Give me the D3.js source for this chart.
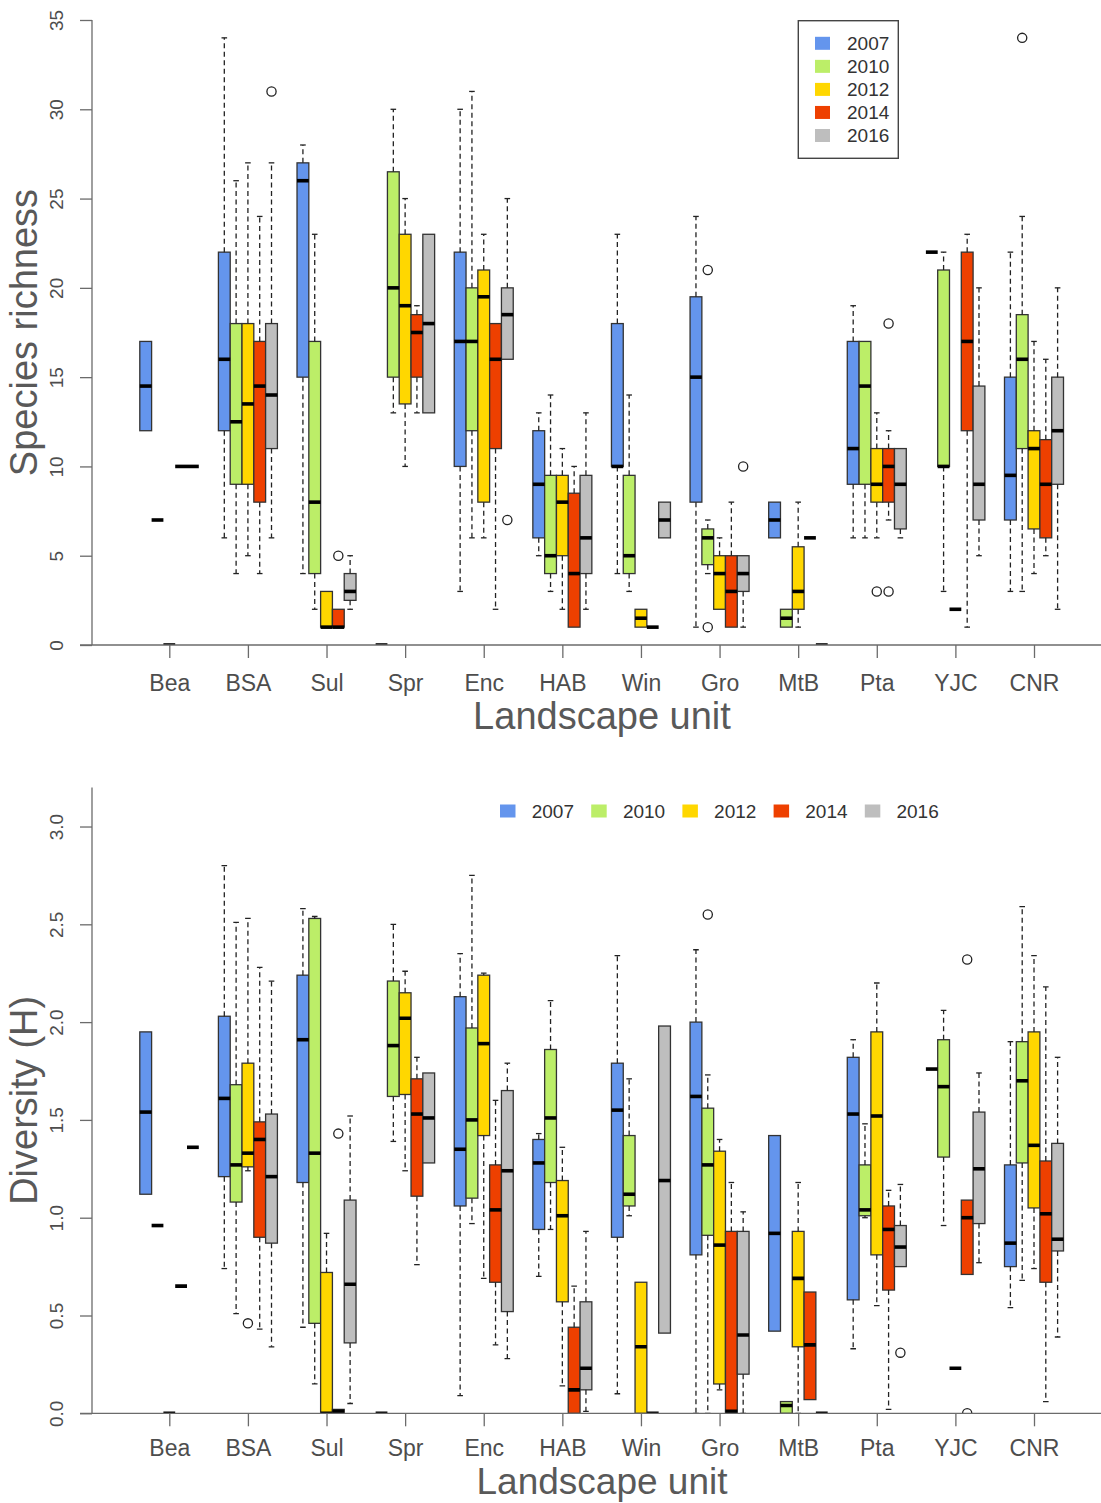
<!DOCTYPE html>
<html>
<head>
<meta charset="utf-8">
<script src="https://cdn.jsdelivr.net/npm/d3@7"></script>
<style>
  html, body { margin: 0; padding: 0; background: #fff; }
  svg { display: block; font-family: "Liberation Sans", Arial, Helvetica, sans-serif; }
</style>
</head>
<body>
<svg id="chart" width="1101" height="1503"></svg>
<script>
// Landscape units and survey years
const units = ["Bea", "BSA", "Sul", "Spr", "Enc", "HAB", "Win", "Gro", "MtB", "Pta", "YJC", "CNR"];
const years = ["2007", "2010", "2012", "2014", "2016"];
const yearColors = ["#6495ED", "#BCEE68", "#FFD700", "#EE4000", "#BEBEBE"];

// Species richness: [lower whisker, Q1, median, Q3, upper whisker] per unit
const rich2007 = [[12,12,14.5,17,17],[6,12,16,22,34],[4,15,26,27,28],[0,0,0,0,0],[3,10,17,22,30],[5,6,9,12,13],
                  [4,10,10,18,23],[1,8,15,19.5,24],[6,6,7,8,8],[6,9,11,17,19],[22,22,22,22,22],[3,7,9.5,15,22]];
const rich2010 = [[7,7,7,7,7],[4,9,12.5,18,26],[2,4,8,17,23],[13,15,20,26.5,30],[6,12,17,20,31],[3,4,5,9.5,14],
                  [3,4,5,9.5,14],[4,4.5,6,6.5,7],[1,1,1.5,2,2],[6,9,14.5,17,17],[3,10,10,21,22],[3,11,16,18.5,24]];
const rich2012 = [[0,0,0,0,0],[5,9,13.5,18,27],[1,1,1,3,3],[10,13.5,19,23,25],[6,8,19.5,21,23],[2,5,8,9.5,11],
                  [1,1,1.5,2,2],[2,2,4,5,6],[1,2,3,5.5,8],[6,8,9,11,13],[2,2,2,2,2],[4,6.5,11,12,17]];
const rich2014 = [[10,10,10,10,10],[4,8,14.5,17,24],[1,1,1,2,2],[13,15,17.5,18.5,19],[2,11,16,18,18],[1,1,4,8.5,10],
                  [1,1,1,1,1],[1,1,3,5,8],[6,6,6,6,6],[7,8,10,11,12],[1,12,17,22,23],[5,6,9,11.5,16]];
const rich2016 = [[10,10,10,10,10],[6,11,14,18,27],[2,2.5,3,4,5],[13,13,18,23,23],[16,16,18.5,20,25],[2,4,6,9.5,13],
                  [6,6,7,8,8],[1,3,4,5,5],[0,0,0,0,0],[6,6.5,9,11,11],[5,7,9,14.5,20],[2,9,12,15,20]];
// Richness outliers: [unit, year, value]
const richOutliers = [["BSA","2016",31],["Sul","2014",5],["Enc","2016",7],["Gro","2010",21],["Gro","2010",1],
                      ["Gro","2016",10],["Pta","2012",3],["Pta","2014",18],["Pta","2014",3],["CNR","2010",34]];
const richTicks = [0, 5, 10, 15, 20, 25, 30, 35];

// Shannon diversity (H): [lower whisker, Q1, median, Q3, upper whisker] per unit
const div2007 = [[1.12,1.12,1.54,1.95,1.95],[0.74,1.21,1.61,2.03,2.80],[0.44,1.18,1.91,2.24,2.58],[0,0,0,0,0],
                 [0.09,1.06,1.35,2.13,2.35],[0.70,0.94,1.28,1.40,1.43],[0.10,0.90,1.55,1.79,2.34],[0,0.81,1.62,2.00,2.37],
                 [0.42,0.42,0.92,1.42,1.42],[0.33,0.58,1.53,1.82,1.91],[1.76,1.76,1.76,1.76,1.76],[0.54,0.75,0.87,1.27,1.90]];
const div2010 = [[0.96,0.96,0.96,0.96,0.96],[0.51,1.08,1.27,1.68,2.51],[0.15,0.46,1.33,2.53,2.54],[1.39,1.62,1.88,2.21,2.50],
                 [0.97,1.10,1.50,1.97,2.75],[0.94,1.18,1.51,1.86,2.11],[1.01,1.06,1.12,1.42,1.71],[0,0.91,1.27,1.56,1.73],
                 [0,0,0.04,0.06,0.06],[1.00,1.01,1.04,1.27,1.48],[0.96,1.31,1.67,1.91,2.06],[0.68,1.28,1.70,1.90,2.59]];
const div2012 = [[0,0,0,0,0],[1.24,1.26,1.33,1.79,2.53],[0,0,0,0.72,0.92],[1.24,1.63,2.02,2.15,2.26],
                 [0.69,1.42,1.89,2.24,2.25],[0.14,0.57,1.01,1.19,1.36],[0,0,0.34,0.67,0.67],[0.12,0.15,0.86,1.34,1.40],
                 [0,0.34,0.69,0.93,1.18],[0.55,0.81,1.52,1.95,2.20],[0.23,0.23,0.23,0.23,0.23],[0.74,1.05,1.37,1.95,2.34]];
const div2014 = [[0.65,0.65,0.65,0.65,0.65],[0.43,0.90,1.40,1.49,2.28],[0,0,0.01,0.02,0.02],[0.76,1.11,1.53,1.71,1.82],
                 [0.35,0.67,1.04,1.27,1.60],[0,0,0.12,0.44,0.65],[0,0,0,0,0],[0,0,0.01,0.93,1.18],
                 [0.07,0.07,0.35,0.62,0.62],[0.02,0.63,0.94,1.06,1.14],[0.71,0.71,1.00,1.09,1.09],[0.06,0.67,1.02,1.29,2.18]];
const div2016 = [[1.36,1.36,1.36,1.36,1.36],[0.34,0.87,1.21,1.53,2.21],[0.05,0.36,0.66,1.09,1.52],[1.28,1.28,1.51,1.74,1.74],
                 [0.28,0.52,1.24,1.65,1.79],[0.01,0.12,0.23,0.57,0.93],[0.41,0.41,1.19,1.98,1.98],[0,0.20,0.40,0.93,1.03],
                 [0,0,0,0,0],[0.75,0.75,0.85,0.96,1.17],[0.77,0.97,1.25,1.54,1.74],[0.39,0.83,0.89,1.38,1.82]];
// Diversity outliers: [unit, year, value]
const divOutliers = [["BSA","2012",0.46],["Sul","2014",1.43],["Gro","2010",2.55],["Pta","2016",0.31],
                     ["YJC","2014",2.32],["YJC","2014",0]];
const divTicks = [0, 0.5, 1.0, 1.5, 2.0, 2.5, 3.0];

const svg = d3.select("#chart");
const axisColor = "#6b6b6b";
const textColor = "#4d4d4d";
const plotLeft = 92, plotRight = 1101;
const boxW = 11.8;

const xUnit = d3.scalePoint().domain(units).range([169.3, 1034]);
const xYear = d3.scalePoint().domain(years).range([-2 * boxW, 2 * boxW]);

function drawPanel(cfg) {
  const y = d3.scaleLinear().domain(cfg.domain).range([cfg.bottom, cfg.top]);
  const g = svg.append("g");

  const clipId = "clip-" + cfg.id;
  svg.append("clipPath").attr("id", clipId)
    .append("rect").attr("x", plotLeft).attr("y", cfg.top)
    .attr("width", plotRight - plotLeft).attr("height", cfg.bottom - cfg.top);
  const plot = g.append("g").attr("clip-path", `url(#${clipId})`);

  // one record per unit and year
  const boxes = [];
  years.forEach((yr, j) => {
    cfg.stats[j].forEach((s, i) => {
      boxes.push({ unit: units[i], year: yr, color: yearColors[j],
                   lo: s[0], q1: s[1], med: s[2], q3: s[3], hi: s[4],
                   cx: xUnit(units[i]) + xYear(yr) });
    });
  });

  // boxes
  plot.selectAll("rect.box").data(boxes).join("rect")
    .attr("class", "box")
    .attr("x", d => d.cx - boxW / 2)
    .attr("y", d => y(d.q3))
    .attr("width", boxW)
    .attr("height", d => y(d.q1) - y(d.q3))
    .attr("fill", d => d.color)
    .attr("stroke", "#333")
    .attr("stroke-width", 1.3);

  // whiskers (dashed) and staples
  const whiskers = [];
  boxes.forEach(d => {
    if (d.hi > d.q3) whiskers.push({ cx: d.cx, from: d.q3, to: d.hi });
    if (d.lo < d.q1) whiskers.push({ cx: d.cx, from: d.q1, to: d.lo });
  });
  plot.selectAll("line.whisker").data(whiskers).join("line")
    .attr("class", "whisker")
    .attr("x1", d => d.cx).attr("x2", d => d.cx)
    .attr("y1", d => y(d.from)).attr("y2", d => y(d.to))
    .attr("stroke", "#222").attr("stroke-width", 1.3)
    .attr("stroke-dasharray", "5,3.5");
  plot.selectAll("line.staple").data(whiskers).join("line")
    .attr("class", "staple")
    .attr("x1", d => d.cx - 2.8).attr("x2", d => d.cx + 2.8)
    .attr("y1", d => y(d.to)).attr("y2", d => y(d.to))
    .attr("stroke", "#222").attr("stroke-width", 1.3);

  // medians
  plot.selectAll("line.median").data(boxes).join("line")
    .attr("class", "median")
    .attr("x1", d => d.cx - boxW / 2).attr("x2", d => d.cx + boxW / 2)
    .attr("y1", d => y(d.med)).attr("y2", d => y(d.med))
    .attr("stroke", "#000").attr("stroke-width", 3.6);

  // outliers
  plot.selectAll("circle.out").data(cfg.outliers).join("circle")
    .attr("class", "out")
    .attr("cx", d => xUnit(d[0]) + xYear(d[1]))
    .attr("cy", d => y(d[2]))
    .attr("r", 4.6)
    .attr("fill", "none").attr("stroke", "#222").attr("stroke-width", 1.3);

  // y axis
  const yAxis = d3.axisLeft(y).tickValues(cfg.ticks).tickSize(12).tickFormat(cfg.format);
  const ya = g.append("g").attr("transform", `translate(${plotLeft},0)`).call(yAxis);
  ya.select(".domain").remove();
  ya.selectAll(".tick line").attr("stroke", axisColor).attr("stroke-width", 1.3);
  ya.selectAll(".tick text")
    .attr("transform", "rotate(-90)")
    .attr("x", 0).attr("y", -29).attr("dy", null)
    .attr("text-anchor", "middle")
    .attr("fill", textColor)
    .style("font-size", "19px")
    .style("font-family", "'Liberation Sans', Arial, sans-serif");

  // x axis
  const xAxis = d3.axisBottom(xUnit).tickSize(13).tickPadding(0);
  const xa = g.append("g").attr("transform", `translate(0,${cfg.bottom})`).call(xAxis);
  xa.select(".domain").remove();
  xa.selectAll(".tick line").attr("stroke", axisColor).attr("stroke-width", 1.3);
  xa.selectAll(".tick text")
    .attr("y", cfg.tickGap).attr("dy", null)
    .attr("fill", textColor)
    .style("font-size", "23px")
    .style("font-family", "'Liberation Sans', Arial, sans-serif");

  // L-shaped frame
  g.append("line").attr("x1", plotLeft).attr("x2", plotLeft)
    .attr("y1", cfg.top).attr("y2", cfg.bottom)
    .attr("stroke", axisColor).attr("stroke-width", 1.3);
  g.append("line").attr("x1", plotLeft - 12).attr("x2", plotRight)
    .attr("y1", cfg.bottom).attr("y2", cfg.bottom)
    .attr("stroke", axisColor).attr("stroke-width", 1.3);

  // axis titles
  g.append("text")
    .attr("transform", `translate(36.5,${(cfg.top + cfg.bottom) / 2}) rotate(-90)`)
    .attr("text-anchor", "middle")
    .attr("fill", "#595959")
    .style("font-size", "38px")
    .text(cfg.ylabel);
  g.append("text")
    .attr("x", 602).attr("y", cfg.bottom + cfg.titleGap)
    .attr("text-anchor", "middle")
    .attr("fill", "#595959")
    .style("font-size", cfg.titleSize)
    .text("Landscape unit");

  return g;
}

const richPanel = drawPanel({
  id: "rich", domain: [0, 35], top: 20, bottom: 645, tickGap: 45.5, titleGap: 83.5, titleSize: "38px",
  stats: [rich2007, rich2010, rich2012, rich2014, rich2016],
  outliers: richOutliers, ticks: richTicks, format: d3.format("d"),
  ylabel: "Species richness"
});

const divPanel = drawPanel({
  id: "div", domain: [0, 3.2], top: 787.4, bottom: 1413.3, tickGap: 42.5, titleGap: 81, titleSize: "37px",
  stats: [div2007, div2010, div2012, div2014, div2016],
  outliers: divOutliers, ticks: divTicks, format: d3.format(".1f"),
  ylabel: "Diversity (H)"
});

// vertical legend with frame (richness panel)
const legRich = richPanel.append("g");
legRich.append("rect").attr("x", 798.3).attr("y", 20.7).attr("width", 100).attr("height", 137.6)
  .attr("fill", "#fff").attr("stroke", "#444").attr("stroke-width", 1.4);
const lt = legRich.selectAll("g.item").data(years).join("g")
  .attr("transform", (d, i) => `translate(0,${43.3 + i * 23.05})`);
lt.append("rect").attr("x", 815).attr("y", -6.5).attr("width", 15).attr("height", 13)
  .attr("fill", (d, i) => yearColors[i]);
lt.append("text").attr("x", 847).attr("y", 6.8).attr("fill", "#333")
  .style("font-size", "19px").text(d => d);

// horizontal legend (diversity panel)
const lb = divPanel.append("g").selectAll("g.item").data(years).join("g")
  .attr("transform", (d, i) => `translate(${500 + i * 91.2},811)`);
lb.append("rect").attr("x", 0).attr("y", -6.5).attr("width", 15.5).attr("height", 13)
  .attr("fill", (d, i) => yearColors[i]);
lb.append("text").attr("x", 31.7).attr("y", 6.8).attr("fill", "#333")
  .style("font-size", "19px").text(d => d);
</script>
</body>
</html>
